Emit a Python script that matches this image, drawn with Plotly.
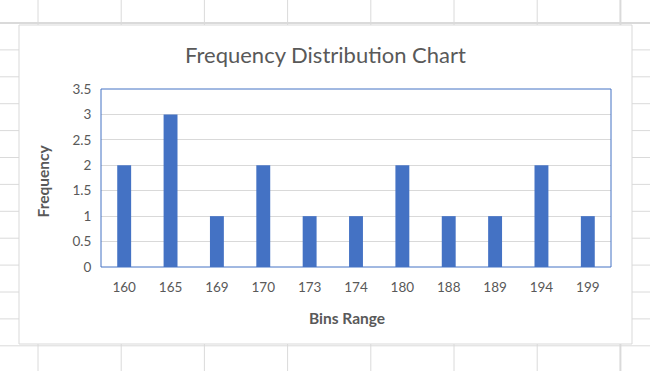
import plotly.graph_objects as go

bins = ["160", "165", "169", "170", "173", "174", "180", "188", "189", "194", "199"]
frequency = [2, 3, 1, 2, 1, 1, 2, 1, 1, 2, 1]
y_ticks = [0, 0.5, 1, 1.5, 2, 2.5, 3, 3.5]
y_tick_labels = ["0", "0.5", "1", "1.5", "2", "2.5", "3", "3.5"]

W, H = 650, 371
L, R, T, B = 101, 39, 89, 104
PW, PH = W - L - R, H - T - B

def px(x):
    return (x - L) / PW

def py(y):
    return (H - B - y) / PH

FONT = "Lato, 'Open Sans', sans-serif"
GREY_TXT = "#595959"
SHEET = "#dadada"

shapes = []
# spreadsheet background grid
for k in range(8):
    x = 38 + 83.2 * k
    shapes.append(dict(type="line", xref="paper", yref="paper", x0=px(x), x1=px(x), y0=py(0), y1=py(H),
                       line=dict(color=SHEET, width=2 if k == 7 else 1), layer="below"))
for k in range(14):
    y = 23 + 26.9 * k
    shapes.append(dict(type="line", xref="paper", yref="paper", x0=px(0), x1=px(W), y0=py(y), y1=py(y),
                       line=dict(color=SHEET, width=2 if k == 0 else 1), layer="below"))
# chart area box
shapes.append(dict(type="rect", xref="paper", yref="paper", x0=px(19), x1=px(632), y0=py(25), y1=py(344),
                   fillcolor="white", line=dict(color="#d9d9d9", width=1), layer="below"))
# plot area border
shapes.append(dict(type="rect", xref="paper", yref="paper", x0=0, x1=1, y0=0, y1=1,
                   fillcolor="rgba(0,0,0,0)", line=dict(color="#4472C4", width=1), layer="above"))

fig = go.Figure(go.Bar(x=bins, y=frequency, marker=dict(color="#4472C4", line=dict(width=0))))

fig.update_layout(
    width=W, height=H,
    margin=dict(l=L, r=R, t=T, b=B),
    paper_bgcolor="white", plot_bgcolor="rgba(0,0,0,0)",
    bargap=0.70,
    showlegend=False,
    shapes=shapes,
    font=dict(family=FONT, color=GREY_TXT),
    annotations=[
        dict(text="Frequency Distribution Chart", xref="paper", yref="paper", x=px(325), y=py(54),
             xanchor="center", yanchor="middle", showarrow=False, font=dict(size=22, color=GREY_TXT, family=FONT)),
        dict(text="<b>Bins Range</b>", xref="paper", yref="paper", x=px(346.5), y=py(318),
             xanchor="center", yanchor="middle", showarrow=False, font=dict(size=15.5, color=GREY_TXT, family=FONT)),
        dict(text="<b>Frequency</b>", xref="paper", yref="paper", x=px(42), y=py(181.5), textangle=-90,
             xanchor="center", yanchor="middle", showarrow=False, font=dict(size=15.5, color=GREY_TXT, family=FONT)),
    ],
)
fig.update_xaxes(showgrid=False, showline=False, zeroline=False, ticks="outside", ticklen=8,
                 tickcolor="rgba(0,0,0,0)", tickfont=dict(size=13.5, color=GREY_TXT, family=FONT))
fig.update_yaxes(range=[0, 3.5], tickvals=y_ticks, ticktext=y_tick_labels, showgrid=True,
                 gridcolor="#d9d9d9", gridwidth=1, zeroline=False, showline=False,
                 ticks="outside", ticklen=6, tickcolor="rgba(0,0,0,0)",
                 tickfont=dict(size=13.5, color=GREY_TXT, family=FONT))

fig.write_html("out.html", config={"displayModeBar": False},
               post_script="document.body.style.margin='0';document.body.style.overflow='hidden';")
